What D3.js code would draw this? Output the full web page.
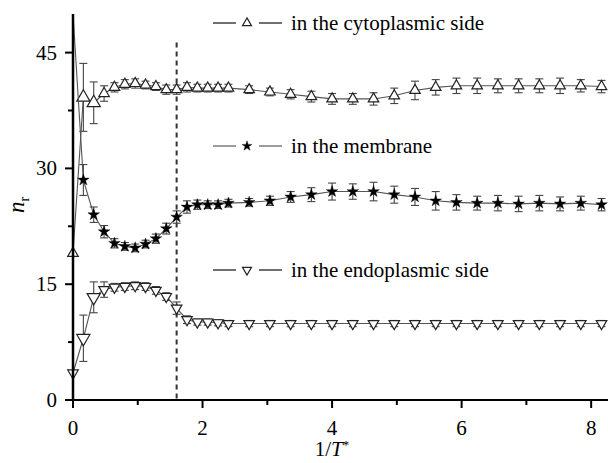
<!DOCTYPE html>
<html>
<head>
<meta charset="utf-8">
<script src="https://cdn.jsdelivr.net/npm/d3@7"></script>
<style>
  body { margin: 0; background: #fff; }
</style>
</head>
<body>
<svg id="chart" width="608" height="463" font-family="'Liberation Serif', 'DejaVu Serif', 'Times New Roman', Times, serif"></svg>
<script>
"use strict";

// 1/T* values (x axis)
var xs = [0, 0.16, 0.32, 0.48, 0.64, 0.80, 0.96, 1.12, 1.28, 1.44, 1.60, 1.76, 1.92, 2.08, 2.24, 2.40,
  2.72, 3.04, 3.36, 3.68, 4.00, 4.32, 4.64, 4.96, 5.28, 5.60, 5.92, 6.24, 6.56, 6.88, 7.20, 7.52, 7.84, 8.16];

// in the cytoplasmic side
var cyto = [19.0, 39.2, 38.5, 39.7, 40.5, 40.9, 41.0, 40.8, 40.6, 40.2, 40.2, 40.5, 40.4, 40.4, 40.4, 40.4,
  40.2, 39.9, 39.6, 39.3, 39.0, 39.0, 39.0, 39.4, 40.1, 40.5, 40.7, 40.7, 40.7, 40.7, 40.7, 40.7, 40.7, 40.6];
var cytoErr = [0, 4.4, 2.7, 1.0, 0.6, 0.6, 0.6, 0.5, 0.5, 0.6, 0.6, 0.6, 0.5, 0.5, 0.5, 0.5,
  0.5, 0.5, 0.6, 0.7, 0.7, 0.7, 0.8, 1.0, 1.2, 1.0, 1.0, 1.0, 0.9, 0.9, 0.9, 1.0, 0.8, 0.8];

// in the membrane
var memb = [50, 28.5, 24.0, 21.8, 20.3, 19.9, 19.7, 20.2, 20.9, 22.2, 23.7, 25.0, 25.3, 25.3, 25.3, 25.5,
  25.6, 25.8, 26.3, 26.6, 27.0, 27.0, 27.0, 26.6, 26.3, 25.8, 25.6, 25.5, 25.5, 25.4, 25.5, 25.4, 25.5, 25.3];
var membErr = [0, 2.0, 1.0, 0.8, 0.6, 0.5, 0.5, 0.5, 0.6, 0.7, 0.8, 0.8, 0.6, 0.5, 0.5, 0.5,
  0.5, 0.6, 0.7, 0.9, 1.1, 1.0, 1.2, 1.1, 1.1, 1.2, 1.0, 0.9, 1.0, 1.0, 1.0, 0.9, 0.9, 0.8];

// in the endoplasmic side
var endo = [3.5, 8.0, 13.3, 14.3, 14.6, 14.7, 14.8, 14.7, 14.2, 13.4, 11.9, 10.4, 10.1, 10.1, 10.0, 9.9,
  9.9, 9.9, 9.9, 9.9, 9.9, 9.9, 9.9, 9.9, 9.9, 9.9, 9.9, 9.9, 9.9, 9.9, 9.9, 9.9, 9.9, 9.9];
var endoErr = [0, 3.0, 2.0, 1.0, 0.5, 0.5, 0.5, 0.5, 0.5, 0.5, 0.8, 0.5, 0.4, 0.4, 0.4, 0.4,
  0.4, 0.4, 0.4, 0.4, 0.4, 0.4, 0.4, 0.4, 0.4, 0.4, 0.4, 0.4, 0.4, 0.4, 0.4, 0.4, 0.4, 0.4];

var legendLabels = ["in the cytoplasmic side", "in the membrane", "in the endoplasmic side"];
var xTicks = [0, 2, 4, 6, 8];
var yTicks = [0, 15, 30, 45];
var dashedX = 1.6;

var svg = d3.select("#chart");

var x = d3.scaleLinear().domain([0, 8.26]).range([73, 608]);
var y = d3.scaleLinear().domain([0, 50]).range([400, 14]);

var lineColor = "#555";

// Build series records
function makeSeries(vals, errs) {
  return xs.map(function(d, i) { return {x: d, y: vals[i], e: errs[i]}; });
}
var series = [
  {data: makeSeries(cyto, cytoErr), marker: "up"},
  {data: makeSeries(memb, membErr), marker: "star"},
  {data: makeSeries(endo, endoErr), marker: "down"}
];

// dashed line
svg.append("line")
    .attr("x1", x(dashedX)).attr("x2", x(dashedX))
    .attr("y1", y(46.3)).attr("y2", y(0))
    .attr("stroke", "#333")
    .attr("stroke-width", 2)
    .attr("stroke-dasharray", "5,4");

var line = d3.line()
    .x(function(d) { return x(d.x); })
    .y(function(d) { return y(d.y); });

var triUp = d3.symbol().type(d3.symbolTriangle);
var star = d3.symbol().type(d3.symbolStar);

function drawMarker(g, type, scale) {
  scale = scale || 1;
  if (type === "star") {
    g.append("path").attr("d", star.size(42 * scale * scale)())
      .attr("fill", "#000").attr("stroke", "#000").attr("stroke-width", 0.4);
  } else {
    g.append("path").attr("d", triUp.size(48 * scale * scale)())
      .attr("transform", type === "down" ? "rotate(180)" : null)
      .attr("fill", "#fff").attr("stroke", "#222").attr("stroke-width", 1.2);
  }
}

series.forEach(function(s) {
  svg.append("path")
      .datum(s.data)
      .attr("fill", "none")
      .attr("stroke", lineColor)
      .attr("stroke-width", 1.1)
      .attr("d", line);

  // error bars
  var eb = svg.append("g")
      .attr("stroke", "#444")
      .attr("stroke-width", 1.1);
  s.data.forEach(function(d) {
    if (!d.e) return;
    var cx = x(d.x), top = y(d.y + d.e), bot = y(d.y - d.e);
    eb.append("line").attr("x1", cx).attr("x2", cx).attr("y1", top).attr("y2", bot);
    eb.append("line").attr("x1", cx - 4).attr("x2", cx + 4).attr("y1", top).attr("y2", top);
    eb.append("line").attr("x1", cx - 4).attr("x2", cx + 4).attr("y1", bot).attr("y2", bot);
  });

  s.data.forEach(function(d) {
    if (d.y >= 50) return;
    var g = svg.append("g").attr("transform", "translate(" + x(d.x) + "," + y(d.y) + ")");
    var big = s.marker !== "star" && d.x > 0 && d.x < 0.4;
    drawMarker(g, s.marker, big ? 1.25 : 1);
  });
});

// axes
var xAxis = svg.append("g").attr("transform", "translate(0," + y(0) + ")");
xAxis.append("line").attr("x1", x(0) - 1).attr("x2", 608).attr("stroke", "#000").attr("stroke-width", 2);
xAxis.selectAll(".major").data(xTicks).enter().append("line")
    .attr("x1", function(d) { return x(d); }).attr("x2", function(d) { return x(d); })
    .attr("y1", 0).attr("y2", 8).attr("stroke", "#000").attr("stroke-width", 2);
xAxis.selectAll(".minor").data([1, 3, 5, 7]).enter().append("line")
    .attr("x1", function(d) { return x(d); }).attr("x2", function(d) { return x(d); })
    .attr("y1", 0).attr("y2", 5).attr("stroke", "#000").attr("stroke-width", 2);
xAxis.selectAll("text").data(xTicks).enter().append("text")
    .attr("x", function(d) { return x(d); })
    .attr("y", 35)
    .attr("text-anchor", "middle")
    .attr("font-size", 21)
    .text(function(d) { return d; });

var yAxis = svg.append("g").attr("transform", "translate(" + x(0) + ",0)");
yAxis.append("line").attr("y1", y(50)).attr("y2", y(0) + 1).attr("stroke", "#000").attr("stroke-width", 2.5);
yAxis.selectAll(".major").data(yTicks).enter().append("line")
    .attr("y1", function(d) { return y(d); }).attr("y2", function(d) { return y(d); })
    .attr("x1", 0).attr("x2", -8).attr("stroke", "#000").attr("stroke-width", 2);
yAxis.selectAll(".minor").data([7.5, 22.5, 37.5]).enter().append("line")
    .attr("y1", function(d) { return y(d); }).attr("y2", function(d) { return y(d); })
    .attr("x1", 0).attr("x2", -5).attr("stroke", "#000").attr("stroke-width", 2);
yAxis.selectAll("text").data(yTicks).enter().append("text")
    .attr("x", -16)
    .attr("y", function(d) { return y(d) + 7; })
    .attr("text-anchor", "end")
    .attr("font-size", 21)
    .text(function(d) { return d; });

// axis titles
var xt = svg.append("text")
    .attr("x", 332).attr("y", 456)
    .attr("text-anchor", "middle")
    .attr("font-size", 21);
xt.append("tspan").text("1/");
xt.append("tspan").attr("font-style", "italic").text("T");
xt.append("tspan").attr("dy", -7).attr("font-size", 13).text("*");

var yt = svg.append("text")
    .attr("transform", "translate(24,205) rotate(-90)")
    .attr("text-anchor", "middle")
    .attr("font-size", 23);
yt.append("tspan").attr("font-style", "italic").text("n");
yt.append("tspan").attr("dy", 5).attr("font-size", 14).text("r");

// legend
var legendY = [23, 146, 270];
var legendMarkers = ["up", "star", "down"];
legendLabels.forEach(function(lbl, i) {
  var g = svg.append("g").attr("transform", "translate(0," + legendY[i] + ")");
  g.append("line").attr("x1", 213).attr("x2", 236).attr("stroke", i === 1 ? "#666" : "#222").attr("stroke-width", 1.3);
  g.append("line").attr("x1", 259).attr("x2", 282).attr("stroke", i === 1 ? "#666" : "#222").attr("stroke-width", 1.3);
  var m = g.append("g").attr("transform", "translate(247,0)");
  drawMarker(m, legendMarkers[i], 0.85);
  g.append("text")
      .attr("x", 291).attr("y", 7)
      .attr("font-size", 21)
      .text(lbl);
});
</script>
</body>
</html>
